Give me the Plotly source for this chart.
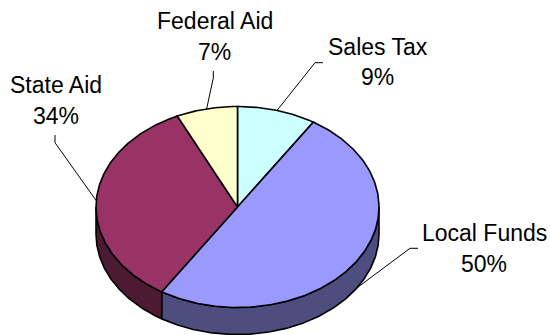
import numpy as np
import plotly.graph_objects as go

# Revenue sources, listed clockwise from 12 o'clock
categories = ["Sales Tax", "Local Funds", "State Aid", "Federal Aid"]
values = [9, 50, 34, 7]

# Face and wall colours for each slice
top_colors = ["#CCFFFF", "#9999FF", "#993366", "#FFFFCC"]
side_colors = ["#668080", "#4D4D80", "#4D1A33", "#808066"]

# Label placement (name line centre) and leader-line elbows, in pixel space
label_pos = [(377.5, 46.5), (484.0, 233.0), (55.5, 85.0), (214.5, 21.0)]
leader_elbows = [
    [(323.0, 62.7), (315.0, 62.7)],
    [(418.0, 248.3), (410.0, 248.3)],
    [(55.0, 135.0), (55.0, 142.7)],
    [(213.3, 71.0), (213.3, 78.0)],
]
LINE_GAP = 30.5

# Tilted pie geometry
CX, CY = 237.5, 207.0
RX, RY = 141.5, 100.5
DEPTH = 27.0
FONT = dict(family="Liberation Sans, Arial, sans-serif", size=23, color="black")


def rim(theta_deg, dy=0.0):
    t = np.radians(theta_deg)
    return CX + RX * np.sin(t), CY - RY * np.cos(t) + dy


def arc(a, b, dy=0.0, n=None):
    n = n or max(8, int(abs(b - a) * 1.5))
    th = np.linspace(a, b, n)
    x, y = rim(th, dy)
    return list(x), list(y)


total = float(sum(values))
bounds = np.concatenate([[0.0], np.cumsum(values) / total * 360.0])

fig = go.Figure()

# Side walls: only the front half (90..270 deg clockwise from top) shows
for i in range(len(values)):
    a = max(bounds[i], 90.0)
    b = min(bounds[i + 1], 270.0)
    if b <= a:
        continue
    tx, ty = arc(a, b)
    bx, by = arc(b, a, DEPTH)
    fig.add_trace(go.Scatter(
        x=tx + bx + [tx[0]], y=ty + by + [ty[0]],
        mode="lines", fill="toself", fillcolor=side_colors[i],
        line=dict(color="black", width=1.6), hoverinfo="skip",
    ))

# Top faces
for i in range(len(values)):
    ax, ay = arc(bounds[i], bounds[i + 1])
    fig.add_trace(go.Scatter(
        x=[CX] + ax + [CX], y=[CY] + ay + [CY],
        mode="lines", fill="toself", fillcolor=top_colors[i],
        line=dict(color="black", width=1.6), hoverinfo="skip",
    ))

# Leader lines and labels
for i, name in enumerate(categories):
    mid = (bounds[i] + bounds[i + 1]) / 2.0
    drop = DEPTH if np.cos(np.radians(mid)) < 0 else 0.0
    sx, sy = rim(mid, drop)
    pts = leader_elbows[i] + [(float(sx), float(sy))]
    fig.add_trace(go.Scatter(
        x=[p[0] for p in pts], y=[p[1] for p in pts],
        mode="lines", line=dict(color="black", width=1), hoverinfo="skip",
    ))
    lx, ly = label_pos[i]
    pct = f"{round(100 * values[i] / total)}%"
    fig.add_annotation(x=lx, y=ly, text=name, showarrow=False,
                       xanchor="center", yanchor="middle", font=FONT)
    fig.add_annotation(x=lx, y=ly + LINE_GAP, text=pct, showarrow=False,
                       xanchor="center", yanchor="middle", font=FONT)

fig.update_layout(
    width=550, height=335,
    margin=dict(l=0, r=0, t=0, b=0),
    paper_bgcolor="white", plot_bgcolor="white",
    showlegend=False,
    xaxis=dict(range=[0, 550], visible=False, fixedrange=True),
    yaxis=dict(range=[335, 0], visible=False, fixedrange=True),
)

fig.write_html("out.html")
